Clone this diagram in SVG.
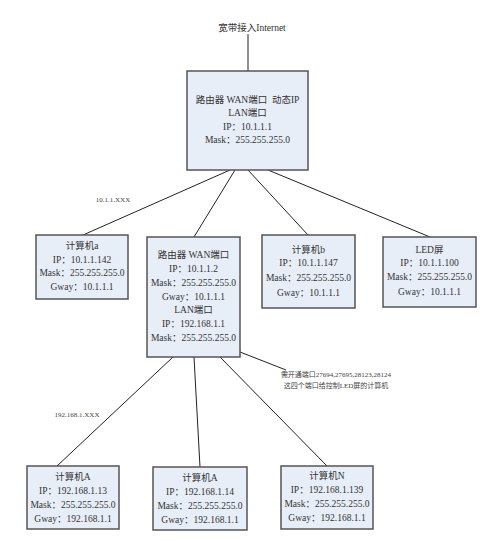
<svg xmlns="http://www.w3.org/2000/svg" width="500" height="541" viewBox="0 0 500 541">
<style>
.box{fill:#e8eef8;stroke:#555;stroke-width:1.5}
.t{font-family:"Liberation Serif","Noto Sans CJK SC",serif;font-size:9.5px;fill:#333;text-anchor:middle}
.s{font-family:"Liberation Serif","Noto Sans CJK SC",serif;font-size:7px;fill:#444;text-anchor:middle}
.ln{stroke:#222;stroke-width:1;fill:none}
</style>
<rect width="500" height="541" fill="#fff"/>
<g id="connectors">
<line class="ln" x1="248" y1="34" x2="248" y2="71"/>
<line class="ln" x1="230" y1="170" x2="83" y2="235"/>
<line class="ln" x1="235" y1="170" x2="194" y2="237"/>
<line class="ln" x1="248" y1="170" x2="308" y2="235"/>
<line class="ln" x1="268" y1="170" x2="430" y2="237"/>
<line class="ln" x1="173" y1="357" x2="57" y2="466"/>
<line class="ln" x1="194" y1="357" x2="200" y2="467"/>
<line class="ln" x1="220" y1="357" x2="327" y2="466"/>
<line class="ln" x1="240" y1="352" x2="286" y2="370"/>
</g>
<g id="internet"><text class="t" x="252" y="31">宽带接入Internet</text></g>
<g id="router1">
<rect class="box" x="187" y="71" width="121" height="99"/>
<text class="t" x="247.5" y="103">路由器 WAN端口&#160;&#160;动态IP</text>
<text class="t" x="247.5" y="116">LAN端口</text>
<text class="t" x="247.5" y="130">IP：10.1.1.1</text>
<text class="t" x="247.5" y="143">Mask：255.255.255.0</text>
</g>
<g id="label1"><text class="s" x="113" y="202">10.1.1.XXX</text></g>
<g id="pca">
<rect class="box" x="36" y="235" width="92" height="64"/>
<text class="t" x="82" y="249">计算机a</text>
<text class="t" x="82" y="263">IP：10.1.1.142</text>
<text class="t" x="82" y="276">Mask：255.255.255.0</text>
<text class="t" x="82" y="290">Gway：10.1.1.1</text>
</g>
<g id="router2">
<rect class="box" x="147" y="237" width="93" height="120"/>
<text class="t" x="193.5" y="258">路由器 WAN端口</text>
<text class="t" x="193.5" y="272">IP：10.1.1.2</text>
<text class="t" x="193.5" y="286">Mask：255.255.255.0</text>
<text class="t" x="193.5" y="300">Gway：10.1.1.1</text>
<text class="t" x="193.5" y="313">LAN端口</text>
<text class="t" x="193.5" y="327">IP：192.168.1.1</text>
<text class="t" x="193.5" y="341">Mask：255.255.255.0</text>
</g>
<g id="pcb">
<rect class="box" x="262" y="235" width="93" height="73"/>
<text class="t" x="308.5" y="253">计算机b</text>
<text class="t" x="308.5" y="266">IP：10.1.1.147</text>
<text class="t" x="308.5" y="281">Mask：255.255.255.0</text>
<text class="t" x="308.5" y="296">Gway：10.1.1.1</text>
</g>
<g id="led">
<rect class="box" x="383" y="237" width="93" height="70"/>
<text class="t" x="429.5" y="253">LED屏</text>
<text class="t" x="429.5" y="266">IP：10.1.1.100</text>
<text class="t" x="429.5" y="280">Mask：255.255.255.0</text>
<text class="t" x="429.5" y="295">Gway：10.1.1.1</text>
</g>
<g id="note">
<text class="s" x="336" y="377">需开通端口27694,27695,28123,28124</text>
<text class="s" x="336" y="388">这四个端口给控制LED屏的计算机</text>
</g>
<g id="label2"><text class="s" x="77" y="417">192.168.1.XXX</text></g>
<g id="pcA1">
<rect class="box" x="27" y="466" width="92" height="63"/>
<text class="t" x="73" y="480">计算机A</text>
<text class="t" x="73" y="494">IP：192.168.1.13</text>
<text class="t" x="73" y="508">Mask：255.255.255.0</text>
<text class="t" x="73" y="522">Gway：192.168.1.1</text>
</g>
<g id="pcA2">
<rect class="box" x="153" y="467" width="94" height="63"/>
<text class="t" x="200" y="481">计算机A</text>
<text class="t" x="200" y="495">IP：192.168.1.14</text>
<text class="t" x="200" y="509">Mask：255.255.255.0</text>
<text class="t" x="200" y="523">Gway：192.168.1.1</text>
</g>
<g id="pcN">
<rect class="box" x="281" y="466" width="92" height="63"/>
<text class="t" x="327" y="479">计算机N</text>
<text class="t" x="327" y="493">IP：192.168.1.139</text>
<text class="t" x="327" y="507">Mask：255.255.255.0</text>
<text class="t" x="327" y="521">Gway：192.168.1.1</text>
</g>
</svg>
